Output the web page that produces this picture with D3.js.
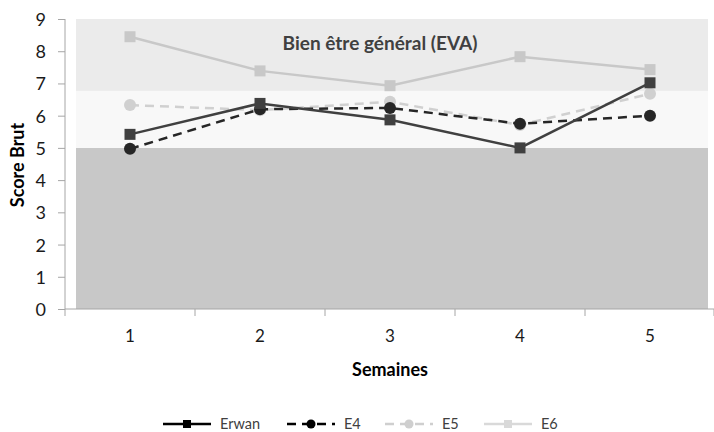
<!DOCTYPE html>
<html>
<head>
<meta charset="utf-8">
<script src="https://cdn.jsdelivr.net/npm/d3@7"></script>
<style>
body { margin: 0; background: #fff; }
text { font-family: Lato, "Open Sans", sans-serif; }
</style>
</head>
<body>
<svg id="chart" width="714" height="432"></svg>
<script>
// data
var weeks = ["1", "2", "3", "4", "5"];
var erwan = [5.42, 6.38, 5.87, 5.0, 7.02];
var e4 = [4.97, 6.2, 6.24, 5.75, 6.0];
var e5 = [6.33, 6.17, 6.43, 5.71, 6.68];
var e6 = [8.45, 7.39, 6.93, 7.83, 7.43];
var seriesNames = ["Erwan", "E4", "E5", "E6"];
var bandLimits = [0, 5, 6.77, 9];
var yTicks = [0, 1, 2, 3, 4, 5, 6, 7, 8, 9];

var svg = d3.select("#chart");

var x = d3.scaleBand().domain(weeks).range([65, 715]);
var y = d3.scaleLinear().domain([0, 9]).range([309, 19]);

var styles = {
    "Erwan": {color: "#404040", dash: null, marker: "square"},
    "E4": {color: "#262626", dash: "9,6", marker: "circle"},
    "E5": {color: "#d0d0d0", dash: "9,6", marker: "circle"},
    "E6": {color: "#c8c8c8", dash: null, marker: "square"}
};
var allData = {"Erwan": erwan, "E4": e4, "E5": e5, "E6": e6};

// background bands
var bandColors = ["#c8c8c8", "#f8f8f8", "#ebebeb"];
for (var i = 0; i < 3; i++) {
    svg.append("rect")
        .attr("x", 76).attr("width", 632)
        .attr("y", y(bandLimits[i + 1]))
        .attr("height", y(bandLimits[i]) - y(bandLimits[i + 1]))
        .attr("fill", bandColors[i]);
}

svg.append("text")
    .attr("x", 380).attr("y", 50)
    .attr("text-anchor", "middle")
    .attr("font-size", 19).attr("font-weight", "bold")
    .attr("fill", "#404040")
    .text("Bien être général (EVA)");

// axes
var yAxis = svg.append("g").attr("transform", "translate(65,0)")
    .call(d3.axisLeft(y).tickValues(yTicks).tickSize(7).tickPadding(12).tickFormat(d3.format("d")));
var xAxis = svg.append("g").attr("transform", "translate(0,309)")
    .call(d3.axisBottom(x).tickSize(0).tickPadding(21));
xAxis.selectAll(".tick line").remove();
var bounds = [65, 195, 325, 455, 585, 714];
bounds.forEach(function(b) {
    xAxis.append("line").attr("x1", b).attr("x2", b)
        .attr("y1", 0).attr("y2", 7).attr("stroke", "#a6a6a6");
});
[yAxis, xAxis].forEach(function(g) {
    g.select(".domain").attr("stroke", "#a6a6a6");
    g.selectAll(".tick line").attr("stroke", "#a6a6a6");
    g.selectAll("text").attr("fill", "#1a1a1a")
        .attr("font-family", "Lato, sans-serif");
});
yAxis.selectAll("text").attr("font-size", 18).attr("dy", "0.36em");
xAxis.selectAll("text").attr("font-size", 17);
yAxis.select(".domain").attr("d", "M0,19V309");
xAxis.select(".domain").attr("d", "M65,0H714");

svg.append("text")
    .attr("transform", "translate(24,165) rotate(-90)")
    .attr("text-anchor", "middle")
    .attr("font-size", 18).attr("font-weight", "bold").attr("fill", "#000")
    .text("Score Brut");
svg.append("text")
    .attr("x", 390).attr("y", 376)
    .attr("text-anchor", "middle")
    .attr("font-size", 18).attr("font-weight", "bold").attr("fill", "#000")
    .text("Semaines");

var line = d3.line()
    .x(function(d, i) { return x(weeks[i]) + x.bandwidth() / 2; })
    .y(function(d) { return y(d); });

function drawMarker(g, type, cx, cy, color, s) {
    if (type === "square") {
        g.append("rect").attr("x", cx - s / 2).attr("y", cy - s / 2)
            .attr("width", s).attr("height", s).attr("fill", color);
    } else {
        g.append("circle").attr("cx", cx).attr("cy", cy).attr("r", s / 2 + 0.5).attr("fill", color);
    }
}

["E6", "E5", "E4", "Erwan"].forEach(function(name) {
    var st = styles[name];
    var vals = allData[name];
    var g = svg.append("g");
    g.append("path").datum(vals)
        .attr("d", line)
        .attr("fill", "none")
        .attr("stroke", st.color)
        .attr("stroke-width", 2.5)
        .attr("stroke-dasharray", st.dash);
    vals.forEach(function(v, i) {
        drawMarker(g, st.marker, x(weeks[i]) + x.bandwidth() / 2, y(v), st.color, 11);
    });
});

// legend
var legX = [163, 287, 385, 484];
var legendColors = {"Erwan": "#000", "E4": "#000", "E5": "#cfcfcf", "E6": "#d9d9d9"};
seriesNames.forEach(function(name, i) {
    var st = styles[name];
    var g = svg.append("g").attr("transform", "translate(" + legX[i] + ",424)");
    g.append("line").attr("x1", 0).attr("x2", 48).attr("y1", 0).attr("y2", 0)
        .attr("stroke", legendColors[name]).attr("stroke-width", 2.5)
        .attr("stroke-dasharray", st.dash);
    drawMarker(g, st.marker, 24, 0, legendColors[name], 8);
    g.append("text").attr("x", 57).attr("y", 5)
        .attr("font-size", 14.5).attr("fill", "#404040")
        .text(name);
});
</script>
</body>
</html>
